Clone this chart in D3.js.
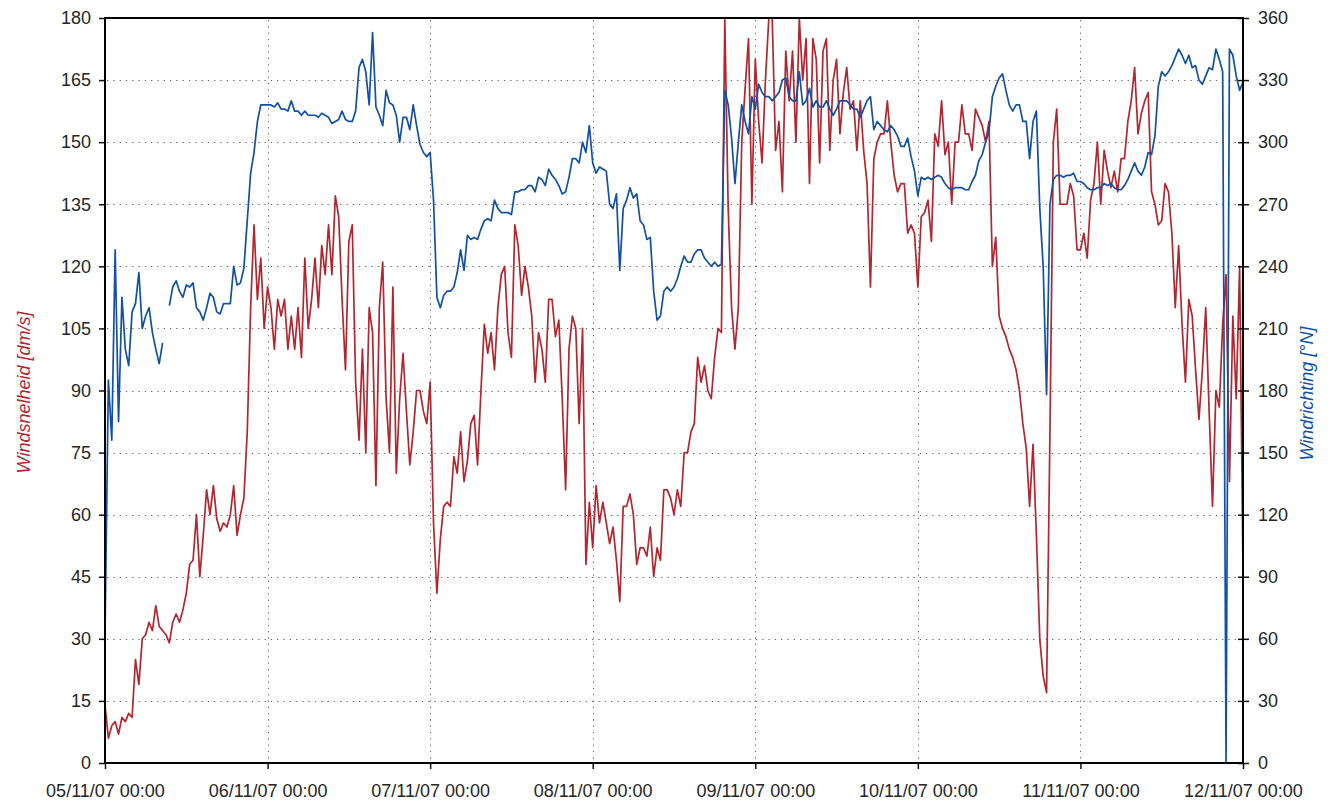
<!DOCTYPE html>
<html>
<head>
<meta charset="utf-8">
<script src="https://cdn.jsdelivr.net/npm/d3@7"></script>
<style>
  body { margin: 0; background: #fff; }
  svg text { font-family: "Liberation Sans", Arial, Helvetica, sans-serif; }
</style>
</head>
<body>
<svg id="chart" width="1331" height="802"></svg>
<script>
// Wind measurements, one sample every 30 minutes from 05/11/07 00:00
const startTime = new Date(2007, 10, 5, 0, 0);
const stepMinutes = 30;

// Wind speed [dm/s]
const windSpeed = [
  14, 6, 9, 10, 7, 11, 10, 12, 11, 25,
  19, 30, 31, 34, 32, 38, 33, 32, 31, 29,
  34, 36, 34, 37, 41, 48, 49, 60, 45, 55,
  66, 60, 67, 59, 56, 58, 57, 60, 67, 55,
  60, 64, 80, 110, 130, 112, 122, 105, 115, 110,
  100, 112, 108, 112, 100, 108, 100, 110, 98, 122,
  105, 112, 122, 110, 125, 118, 130, 118, 137, 132,
  112, 95, 126, 130, 92, 78, 100, 75, 110, 104,
  67, 110, 121, 88, 75, 115, 70, 88, 99, 85,
  72, 80, 90, 90, 85, 82, 92, 58, 41, 54,
  62, 63, 62, 74, 70, 80, 68, 73, 82, 84,
  72, 90, 106, 99, 104, 95, 110, 118, 120, 104,
  98, 130, 125, 113, 120, 115, 108, 92, 104, 100,
  92, 112, 112, 103, 107, 88, 66, 100, 108, 105,
  82, 105, 48, 63, 52, 67, 58, 63, 58, 53,
  57, 49, 39, 62, 62, 65, 60, 48, 52, 52,
  50, 57, 45, 52, 49, 66, 66, 64, 60, 66,
  62, 75, 75, 80, 82, 98, 92, 96, 90, 88,
  98, 105, 104, 180, 134, 110, 100, 110, 150, 163,
  175, 135, 170, 155, 145, 165, 180, 180, 148, 155,
  138, 172, 160, 172, 150, 180, 165, 175, 140, 175,
  170, 145, 172, 175, 148, 165, 170, 152, 162, 168,
  158, 160, 148, 160, 148, 140, 115, 146, 150, 152,
  152, 160, 150, 142, 138, 140, 140, 128, 130, 128,
  115, 132, 133, 136, 126, 152, 149, 160, 147, 150,
  135, 150, 150, 159, 152, 152, 148, 158, 156, 154,
  150, 155, 120, 127, 108, 105, 103, 100, 98, 95,
  90, 82, 76, 62, 77, 55, 30, 21, 17, 80,
  150, 158, 135, 135, 135, 140, 137, 124, 124, 128,
  122, 136, 140, 150, 135, 148, 143, 139, 143, 138,
  146, 146, 155, 160, 168, 152, 157, 160, 162, 138,
  135, 130, 131, 140, 138, 128, 110, 125, 106, 92,
  112, 108, 95, 83, 95, 110, 85, 62, 90, 86,
  106, 118, 68, 108, 88, 120, 47
];

// Wind direction [°N]; null marks a missing sample
const windDirection = [
  62, 185, 156, 248, 165, 225, 200, 192, 218, 222,
  237, 210, 216, 220, 208, 200, 193, 203, null, 221,
  230, 233, 228, 225, 231, 230, 232, 220, 218, 214,
  220, 227, 225, 218, 217, 222, 222, 222, 240, 231,
  232, 239, 262, 285, 295, 310, 318, 318, 318, 318,
  317, 319, 316, 316, 315, 320, 315, 315, 313, 315,
  313, 313, 313, 312, 314, 313, 312, 309, 310, 311,
  315, 311, 310, 310, 315, 336, 340, 334, 318, 353,
  317, 313, 308, 325, 319, 318, 313, 300, 312, 312,
  306, 318, 308, 299, 295, 293, 295, 272, 225, 220,
  226, 228, 228, 230, 237, 248, 238, 255, 253, 254,
  253, 258, 262, 263, 262, 272, 268, 266, 266, 266,
  265, 276, 276, 277, 277, 279, 279, 276, 283, 282,
  279, 287, 284, 282, 279, 275, 276, 283, 292, 292,
  290, 300, 295, 308, 290, 285, 288, 287, 286, 270,
  268, 275, 238, 268, 272, 278, 273, 275, 262, 260,
  253, 254, 228, 214, 216, 228, 230, 228, 230, 234,
  240, 245, 242, 242, 246, 248, 248, 244, 242, 240,
  242, 240, 241, 325, 318, 302, 280, 300, 318, 310,
  304, 322, 316, 328, 324, 322, 322, 320, 322, 324,
  330, 331, 322, 320, 320, 334, 318, 320, 326, 317,
  320, 317, 317, 320, 316, 313, 316, 320, 320, 320,
  318, 316, 316, 312, 316, 320, 322, 306, 310, 308,
  306, 305, 308, 306, 303, 298, 298, 302, 293, 286,
  274, 283, 282, 283, 282, 283, 284, 283, 280, 278,
  277, 278, 278, 278, 277, 277, 281, 284, 291, 294,
  300, 305, 322, 327, 331, 333, 325, 318, 315, 318,
  318, 310, 310, 292, 310, 315, 268, 240, 178, 270,
  282, 284, 284, 283, 284, 284, 285, 281, 281, 280,
  278, 277, 277, 278, 278, 280, 279, 280, 278, 277,
  277, 279, 282, 286, 290, 286, 284, 288, 295, 294,
  303, 327, 334, 332, 334, 337, 341, 345, 342, 338,
  342, 336, 337, 330, 328, 332, 336, 335, 345, 340,
  334, 0, 345, 342, 332, 325, 329
];

// Axis ticks
const speedTicks = [0, 15, 30, 45, 60, 75, 90, 105, 120, 135, 150, 165, 180];
const directionTicks = [0, 30, 60, 90, 120, 150, 180, 210, 240, 270, 300, 330, 360];
const dayCount = 7;

const speedLabel = "Windsnelheid [dm/s]";
const directionLabel = "Windrichting [°N]";

const speedColor = "#b3262f";
const directionColor = "#1250a5";

const plot = { left: 105, right: 1243, top: 18, bottom: 763 };

const svg = d3.select("#chart");

const times = windSpeed.map((_, i) => d3.timeMinute.offset(startTime, i * stepMinutes));
const endTime = d3.timeDay.offset(startTime, dayCount);
const dayTicks = d3.range(dayCount + 1).map(d => d3.timeDay.offset(startTime, d));

const x = d3.scaleTime().domain([startTime, endTime]).range([plot.left, plot.right]);
const ySpeed = d3.scaleLinear().domain([0, 180]).range([plot.bottom, plot.top]);
const yDir = d3.scaleLinear().domain([0, 360]).range([plot.bottom, plot.top]);

// Dotted grid
const grid = svg.append("g").attr("class", "grid")
  .attr("stroke", "#666").attr("stroke-width", 1).attr("stroke-dasharray", "1.3,5");
grid.selectAll("line.h")
  .data(speedTicks.slice(1, -1))
  .join("line").attr("class", "h")
  .attr("x1", plot.left + 2).attr("x2", plot.right - 1)
  .attr("y1", d => Math.round(ySpeed(d)) + 0.5).attr("y2", d => Math.round(ySpeed(d)) + 0.5);
grid.selectAll("line.v")
  .data(dayTicks.slice(1, -1))
  .join("line").attr("class", "v")
  .attr("x1", d => Math.round(x(d)) + 0.5).attr("x2", d => Math.round(x(d)) + 0.5)
  .attr("y1", plot.top + 2).attr("y2", plot.bottom - 1);

// Clip for series lines
svg.append("clipPath").attr("id", "plot-clip")
  .append("rect")
  .attr("x", plot.left).attr("y", plot.top)
  .attr("width", plot.right - plot.left).attr("height", plot.bottom - plot.top);

const series = svg.append("g").attr("clip-path", "url(#plot-clip)");

const speedLine = d3.line()
  .x((d, i) => x(times[i]))
  .y(d => ySpeed(d));

const dirLine = d3.line()
  .defined(d => d !== null)
  .x((d, i) => x(times[i]))
  .y(d => yDir(d));

series.append("path")
  .datum(windSpeed)
  .attr("fill", "none")
  .attr("stroke", speedColor)
  .attr("stroke-width", 1.7)
  .attr("stroke-linejoin", "round")
  .attr("d", speedLine);

series.append("path")
  .datum(windDirection)
  .attr("fill", "none")
  .attr("stroke", directionColor)
  .attr("stroke-width", 1.7)
  .attr("stroke-linejoin", "round")
  .attr("d", dirLine);

// Axes
const fmt = d3.timeFormat("%d/%m/%y %H:%M");

const xAxis = svg.append("g")
  .attr("transform", `translate(0,${plot.bottom})`)
  .call(d3.axisBottom(x).tickValues(dayTicks).tickFormat(fmt).tickSize(6).tickPadding(15));

const leftAxis = svg.append("g")
  .attr("transform", `translate(${plot.left},0)`)
  .call(d3.axisLeft(ySpeed).tickValues(speedTicks).tickSize(6).tickPadding(8));

const rightAxis = svg.append("g")
  .attr("transform", `translate(${plot.right},0)`)
  .call(d3.axisRight(yDir).tickValues(directionTicks).tickSize(6).tickPadding(9));
rightAxis.selectAll(".tick line").attr("x1", -5).attr("x2", 6);

[xAxis, leftAxis, rightAxis].forEach(a => {
  a.select(".domain").remove();
  a.selectAll(".tick line").attr("stroke", "#111").attr("stroke-width", 1.5);
  a.selectAll(".tick text")
    .attr("fill", "#262626")
    .style("font-size", "18px");
});

// Plot frame
svg.append("rect")
  .attr("x", plot.left).attr("y", plot.top)
  .attr("width", plot.right - plot.left).attr("height", plot.bottom - plot.top)
  .attr("fill", "none").attr("stroke", "#000").attr("stroke-width", 2);

// Axis titles
svg.append("text")
  .attr("transform", `translate(30,${(plot.top + plot.bottom) / 2 + 2}) rotate(-90)`)
  .attr("text-anchor", "middle")
  .attr("fill", speedColor)
  .style("font-size", "18px")
  .style("font-style", "italic")
  .text(speedLabel);

svg.append("text")
  .attr("transform", `translate(1313,${(plot.top + plot.bottom) / 2 + 3}) rotate(-90)`)
  .attr("text-anchor", "middle")
  .attr("fill", directionColor)
  .style("font-size", "18px")
  .style("font-style", "italic")
  .text(directionLabel);
</script>
</body>
</html>
